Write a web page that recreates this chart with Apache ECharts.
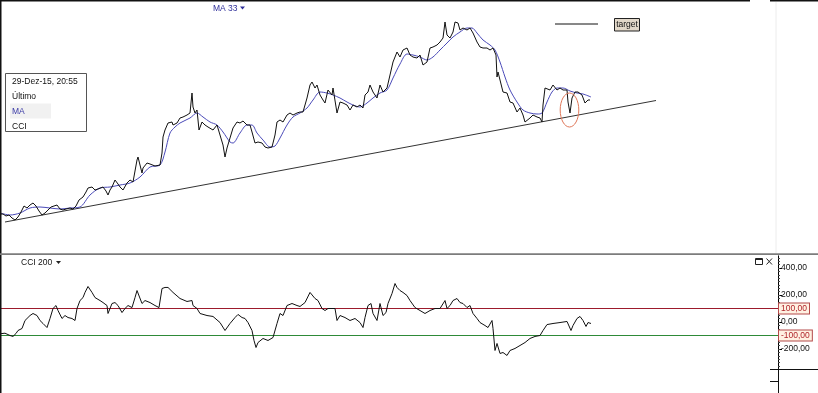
<!DOCTYPE html>
<html><head><meta charset="utf-8">
<script src="https://cdn.jsdelivr.net/npm/echarts@6/dist/echarts.min.js"></script>
<style>html,body{margin:0;padding:0;background:#fff}#c{width:818px;height:393px}</style>
</head><body><div id="c"></div>
<script>
// Price ("Último"): [day index, price]
const price = [[0,4.6],[3,4.6],[6,4.4],[9,4.5],[12,4.2],[15,4.0],[18,4.3],[21,4.8],[24,5.4],[27,5.2],[30,5.5],[33,5.7],[36,5.4],[39,4.9],[42,4.5],[45,4.7],[48,5.0],[51,5.3],[54,5.4],[57,5.5],[60,5.1],[63,5.0],[66,5.1],[70,5.2],[73,5.1],[76,5.4],[79,6.0],[83,6.3],[86,6.8],[88,7.2],[92,7.3],[95,7.0],[98,7.1],[100,7.2],[103,7.3],[106,6.9],[108,6.5],[110,7.0],[112,7.3],[115,8.0],[118,7.6],[120,7.3],[123,7.0],[127,7.7],[130,8.0],[133,7.8],[135,7.7],[137,10.0],[138,10.3],[140,9.5],[142,8.7],[143,9.2],[147,9.7],[150,9.6],[152,9.5],[155,9.4],[157,9.3],[160,9.5],[162,10.7],[163,12.3],[165,13.0],[168,13.7],[170,13.9],[172,13.8],[173,13.5],[175,13.6],[177,13.7],[180,14.2],[183,14.3],[187,14.5],[190,14.7],[192,16.7],[193,15.3],[195,14.7],[197,15.0],[199,13.0],[202,13.8],[205,13.5],[208,13.3],[210,13.2],[213,13.0],[217,13.5],[220,12.5],[223,11.5],[225,10.3],[227,11.2],[230,12.2],[233,13.2],[237,13.8],[240,13.7],[243,13.9],[247,13.5],[250,13.5],[252,12.8],[255,11.7],[258,11.8],[262,11.7],[265,11.3],[268,11.2],[272,11.3],[275,12.5],[277,13.8],[280,14.0],[283,13.8],[287,14.5],[290,14.7],[293,14.5],[297,14.7],[300,14.8],[303,14.8],[307,16.2],[310,17.5],[312,17.8],[315,17.2],[317,17.5],[320,16.5],[323,16.0],[325,15.7],[328,17.0],[332,16.5],[333,17.2],[337,14.7],[340,15.8],[343,15.7],[347,15.5],[350,15.0],[353,15.5],[357,15.3],[360,15.5],[363,15.2],[365,16.5],[368,16.8],[370,17.5],[373,16.8],[377,16.2],[380,17.5],[383,16.8],[387,17.2],[390,18.5],[393,19.8],[397,20.8],[400,20.3],[403,21.0],[407,21.2],[410,20.5],[413,20.3],[417,20.2],[420,20.5],[423,19.5],[427,19.8],[430,21.2],[433,21.3],[437,21.5],[440,21.8],[443,22.2],[445,23.8],[447,22.5],[450,22.2],[453,22.8],[455,23.8],[458,23.7],[460,23.0],[463,23.2],[467,23.0],[470,23.2],[473,22.7],[477,21.8],[480,21.3],[483,21.2],[487,21.2],[490,21.0],[493,21.2],[496,20.5],[497,18.3],[498,18.8],[500,18.0],[503,16.8],[507,16.7],[508,16.5],[510,15.8],[513,15.7],[517,14.8],[520,15.2],[523,14.5],[525,13.8],[527,13.6],[530,14.2],[533,14.5],[537,14.3],[540,14.2],[542,13.8],[543,15.5],[545,17.2],[547,17.3],[550,17.0],[553,17.5],[557,17.0],[560,17.2],[563,17.0],[567,17.0],[568,15.8],[570,14.7],[572,16.2],[573,16.3],[575,16.8],[577,17.0],[578,16.8],[582,16.5],[585,15.7],[588,16.0],[590,16.0]];

// MA 33: [day index, value]
const ma33 = [[0,4.7],[10,4.5],[20,4.7],[30,5.2],[40,5.3],[50,5.2],[60,5.1],[70,5.2],[80,5.3],[90,6.5],[100,7.2],[110,7.3],[120,7.5],[130,7.7],[140,8.3],[150,9.3],[160,9.5],[165,10.8],[170,12.7],[175,13.3],[180,13.7],[190,14.2],[197,14.7],[203,14.3],[210,13.8],[217,13.5],[223,12.8],[230,11.8],[233,11.7],[240,12.7],[247,13.5],[252,13.5],[257,12.7],[263,12.0],[270,11.3],[275,11.4],[280,12.2],[287,13.5],[293,14.3],[300,14.7],[307,15.2],[313,16.0],[320,16.8],[327,16.7],[333,16.5],[340,16.2],[347,15.8],[353,15.5],[360,15.3],[367,15.7],[373,16.2],[380,16.7],[387,17.0],[393,18.2],[400,19.6],[407,20.6],[413,20.5],[420,20.3],[427,20.0],[433,20.3],[440,21.0],[447,21.7],[453,22.3],[460,22.8],[467,23.2],[472,23.2],[477,22.7],[483,22.0],[490,21.5],[495,21.0],[500,19.8],[505,18.3],[510,17.0],[517,15.8],[523,15.0],[530,14.7],[537,14.6],[542,14.7],[547,15.8],[552,16.8],[557,17.2],[563,17.2],[570,16.9],[577,16.7],[583,16.6],[591,16.3]];

// Trend line end points: [day index, price]
const trendLine = [[5,3.8],[656,15.95]];

// CCI 200: [day index, value]
const cci200 = [[0,-87],[5,-83],[10,-100],[13,-107],[16,-85],[18,-63],[22,-48],[25,11],[30,48],[33,63],[37,48],[40,11],[43,-11],[47,-41],[50,26],[53,100],[56,122],[58,85],[62,26],[65,48],[68,33],[72,26],[75,11],[77,100],[80,159],[83,181],[85,219],[88,263],[92,219],[95,181],[100,159],[103,144],[107,122],[108,63],[112,137],[115,144],[118,122],[122,70],[125,100],[128,122],[132,107],[135,181],[137,233],[139,219],[142,137],[145,159],[150,144],[155,122],[159,107],[162,248],[165,256],[168,256],[173,219],[180,174],[187,152],[192,159],[193,122],[197,100],[200,63],[207,48],[213,41],[220,-4],[225,-63],[230,-11],[235,33],[238,56],[242,33],[245,26],[248,-4],[252,-63],[254,-137],[256,-189],[258,-152],[263,-122],[268,-137],[273,-115],[277,-11],[280,63],[283,48],[287,122],[292,137],[297,122],[300,115],[305,144],[310,219],[312,233],[315,174],[318,159],[322,100],[325,85],[328,100],[332,100],[335,100],[337,11],[340,48],[345,33],[350,11],[355,26],[360,-4],[363,-41],[365,33],[368,122],[371,137],[373,63],[377,11],[380,137],[383,48],[386,70],[388,137],[392,211],[395,285],[397,256],[400,233],[403,219],[407,196],[410,159],[415,107],[420,85],[425,63],[430,85],[435,100],[440,100],[445,159],[447,100],[450,122],[453,159],[457,174],[460,144],[463,137],[467,107],[470,122],[473,63],[477,26],[480,-4],[485,-26],[488,-41],[492,11],[493,-48],[495,-211],[497,-159],[500,-233],[503,-226],[507,-248],[510,-211],[515,-196],[520,-174],[525,-152],[530,-122],[535,-107],[540,-100],[543,-63],[547,-19],[553,-11],[560,-4],[567,4],[569,11],[571,-63],[573,-26],[577,26],[580,41],[583,11],[586,-33],[588,-4],[591,-11]];

const cciTickLabels = [-200, 0, 200, 400];
const cciLevels = [100, -100];
const cciLevelColors = ['#9c1a2c', '#2e8a38'];
const cciSpan = [0, 778];
const legendRows = ['29-Dez-15, 20:55', 'Último', 'MA', 'CCI'];

const fmt = v => v.toFixed(2).replace('.', ',');
const minorTicks = [];
for (let v = -350; v <= 490; v += 25) minorTicks.push(v);

const FONT = 'Liberation Sans, Arial, sans-serif';
const chart = echarts.init(document.getElementById('c'), null, {renderer: 'canvas'});

const levelSeries = cciLevels.map((lv, i) => ({
  type: 'line', name: 'level' + i, xAxisIndex: 1, yAxisIndex: 1,
  data: cciSpan.map(d => [d, lv]),
  symbol: 'none', silent: true, z: 2,
  color: cciLevelColors[i],
  lineStyle: {color: cciLevelColors[i], width: 1, type: 'solid'},
  endLabel: {
    show: true, formatter: () => fmt(lv), distance: 1,
    color: '#b0242a', fontSize: 8.5, fontFamily: FONT,
    backgroundColor: '#fff1e2', borderColor: '#b44a4a', borderWidth: 1, padding: [1, 2, 0, 2]
  }
}));

const CCI_TOP = 255.85, CCI_H = 113.4;

chart.setOption({
  animation: false,
  backgroundColor: '#fff',
  grid: [
    {left: 0, top: 0, width: 776, height: 250},
    {left: 0, top: CCI_TOP, width: 778, height: CCI_H},
    {left: 0, top: CCI_TOP, width: 778, height: CCI_H}
  ],
  xAxis: [
    {gridIndex: 0, type: 'value', min: 0, max: 776, show: false},
    {gridIndex: 1, type: 'value', min: 0, max: 778, show: false},
    {gridIndex: 2, type: 'value', min: 0, max: 778, show: false}
  ],
  yAxis: [
    {gridIndex: 0, type: 'value', min: 1, max: 26, show: false},
    {gridIndex: 1, type: 'value', position: 'right', min: -350, max: 490,
      splitLine: {show: false},
      axisLine: {show: true, onZero: false, lineStyle: {color: '#000', width: 1}},
      axisTick: {show: true, inside: false, length: 4, customValues: cciTickLabels, lineStyle: {color: '#000'}},
      axisLabel: {show: true, customValues: cciTickLabels, formatter: fmt, margin: 3,
        color: '#111', fontSize: 8.5, fontFamily: FONT}
    },
    {gridIndex: 2, type: 'value', position: 'right', min: -350, max: 490,
      splitLine: {show: false}, axisLine: {show: false, onZero: false},
      axisTick: {show: true, length: 2, customValues: minorTicks, lineStyle: {color: '#444'}},
      axisLabel: {show: false}
    }
  ],
  series: [
    {type: 'line', name: 'Trend', xAxisIndex: 0, yAxisIndex: 0, data: trendLine,
      symbol: 'none', lineStyle: {color: '#333', width: 1}, silent: true, z: 1},
    {type: 'line', name: 'MA 33', xAxisIndex: 0, yAxisIndex: 0, data: ma33,
      symbol: 'none', smooth: 0.3, lineStyle: {color: '#4a4ab8', width: 1}, z: 2},
    {type: 'line', name: 'Último', xAxisIndex: 0, yAxisIndex: 0, data: price,
      symbol: 'none', lineStyle: {color: '#111', width: 1}, z: 3},
    {type: 'line', name: 'CCI 200', xAxisIndex: 1, yAxisIndex: 1, data: cci200,
      symbol: 'none', lineStyle: {color: '#111', width: 1}, z: 3}
  ].concat(levelSeries),
  graphic: [
    // frame lines
    {type: 'line', shape: {x1: 0, y1: 0.75, x2: 750, y2: 0.75}, style: {stroke: '#111', lineWidth: 1.5}, z: 50},
    {type: 'line', shape: {x1: 770, y1: 0.75, x2: 818, y2: 0.75}, style: {stroke: '#111', lineWidth: 1.5}, z: 50},
    {type: 'line', shape: {x1: 0.75, y1: 0, x2: 0.75, y2: 393}, style: {stroke: '#111', lineWidth: 1.5}, z: 50},
    {type: 'line', shape: {x1: 776, y1: 2, x2: 776, y2: 253}, style: {stroke: '#ececec', lineWidth: 1}, z: 0},
    {type: 'line', shape: {x1: 0, y1: 254.2, x2: 818, y2: 254.2}, style: {stroke: '#7c7c7c', lineWidth: 1.8}, z: 50},
    {type: 'line', shape: {x1: 770, y1: 369.5, x2: 818, y2: 369.5}, style: {stroke: '#111', lineWidth: 1}, z: 50},
    {type: 'line', shape: {x1: 770, y1: 381.5, x2: 778, y2: 381.5}, style: {stroke: '#111', lineWidth: 1}, z: 50},
    {type: 'line', shape: {x1: 778.5, y1: 368, x2: 778.5, y2: 393}, style: {stroke: '#111', lineWidth: 1}, z: 50},
    // legend box
    {type: 'rect', shape: {x: 5.5, y: 73.5, width: 81, height: 58}, style: {fill: '#fff', stroke: '#555', lineWidth: 1}, z: 60},
    {type: 'rect', shape: {x: 10, y: 103.5, width: 41, height: 15}, style: {fill: '#f1f1f1'}, z: 61},
    {type: 'text', x: 12, y: 81.7, style: {text: legendRows[0], fill: '#111', font: '8.5px ' + FONT, verticalAlign: 'middle'}, z: 62},
    {type: 'text', x: 12, y: 96.7, style: {text: legendRows[1], fill: '#111', font: '8.5px ' + FONT, verticalAlign: 'middle'}, z: 62},
    {type: 'text', x: 12, y: 111.5, style: {text: legendRows[2], fill: '#3a3aa6', font: '8.5px ' + FONT, verticalAlign: 'middle'}, z: 62},
    {type: 'text', x: 12, y: 126.2, style: {text: legendRows[3], fill: '#111', font: '8.5px ' + FONT, verticalAlign: 'middle'}, z: 62},
    // MA 33 label
    {type: 'text', x: 213, y: 8.3, style: {text: 'MA 33', fill: '#2f2f9a', font: '8.5px ' + FONT, verticalAlign: 'middle'}, z: 62},
    {type: 'polygon', shape: {points: [[240, 6.5], [245, 6.5], [242.5, 9.5]]}, style: {fill: '#2f2f9a'}, z: 62},
    // CCI 200 label
    {type: 'text', x: 21, y: 262.7, style: {text: 'CCI 200', fill: '#111', font: '8.5px ' + FONT, verticalAlign: 'middle'}, z: 62},
    {type: 'polygon', shape: {points: [[56, 261], [61, 261], [58.5, 264]]}, style: {fill: '#222'}, z: 62},
    // window icons
    {type: 'rect', shape: {x: 755.5, y: 258.5, width: 7, height: 6}, style: {fill: 'none', stroke: '#222', lineWidth: 1}, z: 62},
    {type: 'line', shape: {x1: 755.5, y1: 259.5, x2: 762.5, y2: 259.5}, style: {stroke: '#222', lineWidth: 1}, z: 62},
    {type: 'line', shape: {x1: 766.5, y1: 258.5, x2: 772, y2: 264.5}, style: {stroke: '#222', lineWidth: 1}, z: 62},
    {type: 'line', shape: {x1: 772, y1: 258.5, x2: 766.5, y2: 264.5}, style: {stroke: '#222', lineWidth: 1}, z: 62},
    // target annotation
    {type: 'line', shape: {x1: 555, y1: 24, x2: 598, y2: 24}, style: {stroke: '#111', lineWidth: 1}, z: 62},
    {type: 'rect', shape: {x: 614.5, y: 18.5, width: 25, height: 12.5}, style: {fill: '#e2d8c9', stroke: '#222', lineWidth: 1}, z: 62},
    {type: 'text', x: 627, y: 25, style: {text: 'target', fill: '#111', font: '8.5px ' + FONT, align: 'center', verticalAlign: 'middle'}, z: 63},
    // circled highlight
    {type: 'ellipse', shape: {cx: 569.5, cy: 110, rx: 9.3, ry: 17}, style: {fill: 'none', stroke: '#e0785a', lineWidth: 1}, z: 62}
  ]
});
</script>
</body></html>
